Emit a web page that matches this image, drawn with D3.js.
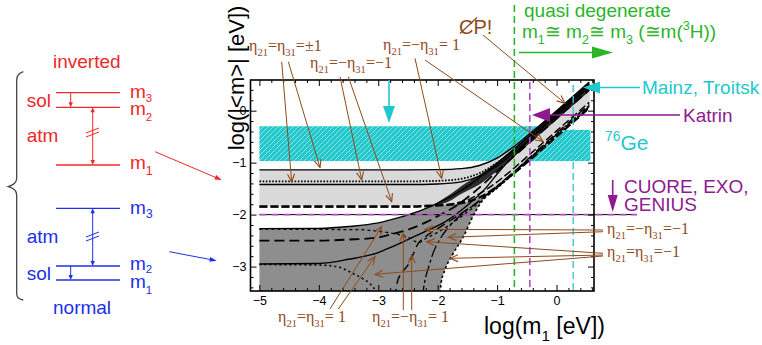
<!DOCTYPE html>
<html>
<head>
<meta charset="utf-8">
<script src="https://cdn.jsdelivr.net/npm/d3@7"></script>
<style>
  body { margin: 0; background: #fff; }
  svg { display: block; }
  text { font-family: "Liberation Sans", Arial, sans-serif; }
</style>
</head>
<body>
<svg id="chart" width="762" height="345"></svg>
<script>
// ---- data (log10 values, eV) ----
const xTicks = [-5, -4, -3, -2, -1, 0];
const yTicks = [0, -1, -2, -3];

// inverted hierarchy
const ihTop = [[-5, -1.14], [-2.5, -1.14], [-2, -1.135], [-1.6, -1.115], [-1.3, -1.055], [-1, -0.915], [-0.7, -0.675], [-0.4, -0.395], [0, 0], [0.55, 0.55]];
const ihDotted = [[-5, -1.36], [-2.5, -1.36], [-2, -1.35], [-1.6, -1.31], [-1.3, -1.205], [-1, -1.0], [-0.7, -0.74], [-0.4, -0.45], [0, -0.05], [0.55, 0.5]];
const ihSolid = [[-5, -1.42], [-2.5, -1.42], [-2, -1.41], [-1.6, -1.37], [-1.3, -1.26], [-1, -1.06], [-0.7, -0.79], [-0.4, -0.5], [0, -0.1], [0.55, 0.45]];
const ihDashed = [[-5, -1.84], [-2.5, -1.84], [-2, -1.82], [-1.7, -1.8], [-1.5, -1.755], [-1.3, -1.67], [-1, -1.46], [-0.7, -1.19], [-0.4, -0.9], [0, -0.5], [0.55, 0.05]];
const ihDashed2 = [[-5, -1.855], [-2.5, -1.855], [-2, -1.83], [-1.7, -1.78], [-1.5, -1.72], [-1.3, -1.6], [-1, -1.37], [-0.7, -1.09], [-0.4, -0.79], [0, -0.39], [0.55, 0.16]];

// normal hierarchy
const nhTop = [[-5, -2.27], [-4, -2.265], [-3.5, -2.23], [-3, -2.16], [-2.6, -2.04], [-2.3, -1.93], [-2, -1.78], [-1.7, -1.6], [-1.4, -1.38], [-1, -1.02], [-0.5, -0.53], [0, -0.03], [0.55, 0.52]];
const nhSolid = [[-5, -2.95], [-4, -2.94], [-3.5, -2.86], [-3, -2.73], [-2.75, -2.61], [-2.5, -2.48], [-2.2, -2.32], [-1.85, -2.12], [-1.5, -1.82], [-1.2, -1.5], [-1, -1.22], [-0.7, -0.84], [-0.4, -0.5], [0, -0.07], [0.55, 0.48]];
const nhDotted = [[-5, -2.96], [-4, -2.97], [-3.7, -3.0], [-3.43, -3.13], [-3.25, -3.24], [-3.14, -3.33], [-3.06, -3.45], [-3.03, -3.6]];
const nhShort = [[-5, -2.28], [-4, -2.285], [-3.3, -2.29], [-3, -2.32], [-2.64, -2.39], [-2.45, -2.46], [-2.33, -2.54], [-2.2, -2.46], [-2, -2.34], [-1.7, -2.12], [-1.4, -1.86], [-1.1, -1.58], [-0.8, -1.28], [-0.4, -0.86], [0, -0.45], [0.55, 0.1]];
const nhLong = [[-5, -2.5], [-4, -2.5], [-3.5, -2.48], [-3, -2.44], [-2.75, -2.37], [-2.5, -2.29], [-2.2, -2.15], [-2, -2.03], [-1.7, -1.84], [-1.4, -1.58], [-1, -1.17], [-0.5, -0.66], [0, -0.15], [0.55, 0.4]];
const nhRise1 = [[-2.72, -3.6], [-2.68, -3.3], [-2.61, -3.13], [-2.5, -2.97], [-2.42, -2.78], [-2.35, -2.6], [-2.2, -2.42], [-2, -2.27], [-1.7, -2.05], [-1.4, -1.82], [-1.1, -1.55], [-0.7, -1.16], [-0.3, -0.74], [0.1, -0.33], [0.55, 0.12]];
const nhRise2 = [[-2.26, -3.6], [-2.22, -3.3], [-2.15, -3.0], [-2.07, -2.72], [-1.95, -2.45], [-1.8, -2.22], [-1.6, -2.0], [-1.35, -1.78], [-1, -1.45], [-0.5, -0.96], [0, -0.46], [0.55, 0.08]];
const nhEdge = [[-1.97, -3.6], [-1.94, -3.3], [-1.88, -3.07], [-1.74, -2.75], [-1.57, -2.43], [-1.41, -2.04], [-1.24, -1.72], [-1, -1.49], [-0.5, -0.98], [0, -0.48], [0.55, 0.06]];
const nhFloor = -3.6;

// dark overlap strip along the degenerate diagonal: [x, top, bottom]
const darkStrip = [[-2.05, -1.8, -1.84], [-1.8, -1.62, -1.74], [-1.6, -1.45, -1.6], [-1.3, -1.24, -1.42], [-1, -0.99, -1.16], [-0.7, -0.7, -0.87], [-0.4, -0.405, -0.575], [0, -0.005, -0.175], [0.55, 0.545, 0.375]];

// 76Ge band pieces: [xFrom, xTo, yTop, yBottom]
const geBand = [[-5, -0.1, -0.30, -0.97], [-0.6, 0.57, -0.37, -0.97]];

// experimental limits
const degenerateX = -0.71;
const katrinX = -0.45;
const mainzX = 0.28;
const cuoreY = -2;

// ---- setup ----
const CYAN = '#22c8cc', BROWN = '#8e4a1c', PURPLE = '#8e1a90', MAGENTA = '#b44cc4',
      GREEN = '#2ab52a', RED = '#f02828', BLUE = '#2030e8';

const svg = d3.select('#chart');
const x = d3.scaleLinear().domain([-5.15, 0.63]).range([250.5, 594]);
const y = d3.scaleLinear().domain([0.59, -3.47]).range([80, 291]);
const [X0, X1] = x.range(), [Y0, Y1] = y.range();

const defs = svg.append('defs');
defs.append('clipPath').attr('id', 'plotClip').append('rect')
    .attr('x', X0).attr('y', Y0).attr('width', X1 - X0).attr('height', Y1 - Y0);

const hatch = defs.append('pattern').attr('id', 'hatch')
    .attr('patternUnits', 'userSpaceOnUse').attr('width', 5).attr('height', 5);
hatch.append('rect').attr('width', 5).attr('height', 5).attr('fill', CYAN);
hatch.append('path').attr('d', 'M-1,1 L1,-1 M0,5 L5,0 M4,6 L6,4')
    .attr('stroke', '#fff').attr('stroke-width', 0.7).attr('opacity', 0.7);

defs.append('marker').attr('id', 'vhead')
    .attr('viewBox', '-9 -5 10 10').attr('refX', 0).attr('refY', 0)
    .attr('markerWidth', 10).attr('markerHeight', 10)
    .attr('markerUnits', 'userSpaceOnUse').attr('orient', 'auto')
    .append('path').attr('d', 'M-8,-3.5 L0,0 L-8,3.5')
    .attr('fill', 'none').attr('stroke', BROWN).attr('stroke-width', 1.1);

const line = d3.line().x(d => x(d[0])).y(d => y(d[1])).curve(d3.curveMonotoneX);
const pts = arr => arr.map(d => [d[0], d[1]]);

// ---- helpers ----
function rich(g, tx, ty, parts, size, color, family, subShift = 0.32, subScale = 0.66) {
    const t = g.append('text').attr('x', tx).attr('y', ty).attr('fill', color)
        .style('font-size', size + 'px').style('white-space', 'pre');
    if (family) t.style('font-family', family);
    let cur = 0;
    parts.forEach(p => {
        const [s, k] = Array.isArray(p) ? p : [p];
        const off = k === 'sub' ? size * subShift : k === 'sup' ? -size * 0.42 : 0;
        const ts = t.append('tspan').attr('dy', off - cur).text(s);
        if (k) ts.style('font-size', (size * subScale) + 'px');
        cur = off;
    });
    return t;
}

function solidArrow(g, x1, y1, x2, y2, color, len, hw, sw) {
    const a = Math.atan2(y2 - y1, x2 - x1), c = Math.cos(a), s = Math.sin(a);
    const bx = x2 - len * c, by = y2 - len * s;
    g.append('line').attr('x1', x1).attr('y1', y1).attr('x2', bx + c).attr('y2', by + s)
        .attr('stroke', color).attr('stroke-width', sw);
    g.append('path')
        .attr('d', `M${x2},${y2}L${bx - hw * s},${by + hw * c}L${bx + hw * s},${by - hw * c}Z`)
        .attr('fill', color);
}

function plainText(g, tx, ty, s, size, color) {
    return g.append('text').attr('x', tx).attr('y', ty).attr('fill', color)
        .style('font-size', size + 'px').text(s);
}

// ---- plot area ----
const plot = svg.append('g').attr('clip-path', 'url(#plotClip)');

plot.selectAll('rect.ge').data(geBand).join('rect').attr('class', 'ge')
    .attr('x', d => x(d[0])).attr('y', d => y(d[2]))
    .attr('width', d => x(d[1]) - x(d[0])).attr('height', d => y(d[3]) - y(d[2]))
    .attr('fill', 'url(#hatch)');

// normal hierarchy region
const nhPath = line(pts(nhTop)) +
    line(pts(nhEdge).reverse()).replace(/^M/, 'L') +
    `L${x(-5)},${y(nhFloor)}Z`;
plot.append('path').attr('d', nhPath).attr('fill', '#8e8e8e');

// inverted hierarchy region
const ihPath = line(pts(ihTop)) + line(pts(ihDashed).reverse()).replace(/^M/, 'L') + 'Z';
plot.append('path').attr('d', ihPath).attr('fill', '#d9d9d9');

plot.append('path').datum(darkStrip)
    .attr('d', d3.area().x(d => x(d[0])).y0(d => y(d[2])).y1(d => y(d[1])).curve(d3.curveMonotoneX))
    .attr('fill', '#2c2c2c');

const curveSet = [
    [ihTop, null, 1.4], [ihDotted, '1.6,1.6', 1.8], [ihSolid, null, 1.4],
    [ihDashed, '8,3', 2.2], [ihDashed2, '8,3', 1.5],
    [nhTop, null, 1.4], [nhShort, '3,3', 1.3], [nhLong, '10,5', 1.8],
    [nhSolid, null, 1.4], [nhDotted, '2,3', 1.6],
    [nhRise1, '9,5', 1.4], [nhRise2, '12,3,3,3', 1.3], [nhEdge, '2.5,2.5', 1.6]
];
curveSet.forEach(([data, dash, w]) => {
    plot.append('path').attr('d', line(data)).attr('fill', 'none')
        .attr('stroke', '#000').attr('stroke-width', w)
        .attr('stroke-dasharray', dash);
});

// ---- limit lines ----
svg.append('line').attr('x1', x(-5)).attr('x2', 633).attr('y1', y(cuoreY)).attr('y2', y(cuoreY))
    .attr('stroke', '#000').attr('stroke-width', 1);
svg.append('line').attr('x1', x(-5)).attr('x2', 637).attr('y1', y(cuoreY)).attr('y2', y(cuoreY))
    .attr('stroke', MAGENTA).attr('stroke-width', 1.6).attr('stroke-dasharray', '7,5');

svg.append('line').attr('x1', x(degenerateX)).attr('x2', x(degenerateX)).attr('y1', 5).attr('y2', Y1)
    .attr('stroke', GREEN).attr('stroke-width', 1.6).attr('stroke-dasharray', '7,4');
svg.append('line').attr('x1', x(katrinX)).attr('x2', x(katrinX)).attr('y1', Y0 + 2).attr('y2', Y1)
    .attr('stroke', MAGENTA).attr('stroke-width', 1.6).attr('stroke-dasharray', '7,4');
svg.append('line').attr('x1', x(mainzX)).attr('x2', x(mainzX)).attr('y1', 85).attr('y2', Y1)
    .attr('stroke', '#3cc8cc').attr('stroke-width', 1.4).attr('stroke-dasharray', '7,4');

// ---- frame and ticks ----
const minorX = d3.range(-5.2, 0.61, 0.2).filter(v => v > -5.15 && Math.abs(v - Math.round(v)) > 0.01);
const minorY = d3.range(0.4, -3.41, -0.2).filter(v => Math.abs(v - Math.round(v)) > 0.01);

function ticks(axis, tr, vals, size, fmt) {
    const g = svg.append('g').attr('transform', tr)
        .call(axis.tickValues(vals).tickSize(-size).tickPadding(5).tickFormat(fmt));
    g.select('.domain').remove();
    g.selectAll('line').attr('stroke', '#000').attr('stroke-width', 1);
    g.selectAll('text').style('font-size', '12.5px').attr('fill', '#000')
        .style('font-family', '"Liberation Sans", Arial, sans-serif');
    return g;
}
const none = () => '';
ticks(d3.axisBottom(x), `translate(0,${Y1})`, xTicks, 6, d3.format('d'));
ticks(d3.axisBottom(x), `translate(0,${Y1})`, minorX, 3, none);
ticks(d3.axisTop(x), `translate(0,${Y0})`, xTicks, 6, none);
ticks(d3.axisTop(x), `translate(0,${Y0})`, minorX, 3, none);
const yl = ticks(d3.axisLeft(y), `translate(${X0},0)`, yTicks, 6, d3.format('d'));
yl.selectAll('text').attr('x', -4);
ticks(d3.axisLeft(y), `translate(${X0},0)`, minorY, 3, none);
ticks(d3.axisRight(y), `translate(${X1},0)`, yTicks, 6, none);
ticks(d3.axisRight(y), `translate(${X1},0)`, minorY, 3, none);

svg.append('rect').attr('x', X0).attr('y', Y0).attr('width', X1 - X0).attr('height', Y1 - Y0)
    .attr('fill', 'none').attr('stroke', '#000').attr('stroke-width', 1.6);

// axis titles
svg.append('text').attr('transform', 'translate(244,78) rotate(-90)')
    .attr('text-anchor', 'middle').style('font-size', '22px').attr('fill', '#000')
    .text('log(|<m>| [eV])');
rich(svg, 484, 334, ['log(m', ['1', 'sub'], ' [eV])'], 23, '#000');

// ---- annotations on the right ----
const ann = svg.append('g');
plainText(ann, 524, 17, 'quasi degenerate', 19, GREEN);
rich(ann, 522, 38, ['m', ['1', 'sub'], '≅ m', ['2', 'sub'], '≅ m', ['3', 'sub'], ' (≅m(', ['3', 'sup'], 'H))'], 19, GREEN);
solidArrow(ann, 519, 52.5, 613, 52.5, GREEN, 21, 6, 1.6);

plainText(ann, 642, 94, 'Mainz, Troitsk', 19, CYAN);
solidArrow(ann, 640, 87.5, 583, 87.5, CYAN, 17, 6, 1.6);
plainText(ann, 683, 122, 'Katrin', 19, PURPLE);
solidArrow(ann, 680, 115, 532, 115, PURPLE, 18, 7, 1.6);
solidArrow(ann, 389, Y0, 389, 123, CYAN, 17, 6, 1.6);

rich(ann, 605, 150, [['76', 'sup'], 'Ge'], 21, CYAN);
plainText(ann, 624, 193, 'CUORE, EXO,', 19, PURPLE);
plainText(ann, 624, 211, 'GENIUS', 19, PURPLE);
solidArrow(ann, 612.7, 180, 612.7, 212, PURPLE, 17, 5, 1.6);

// CP! crossed out
plainText(ann, 459, 34, 'CP!', 20, BROWN);
ann.append('line').attr('x1', 460).attr('y1', 33.5).attr('x2', 477).attr('y2', 17.5)
    .attr('stroke', BROWN).attr('stroke-width', 1.3);

// brown eta labels
const serif = '"Liberation Serif", "Times New Roman", serif';
const etaLabels = [
    [249, 51, ['η', ['21', 'sub'], '=η', ['31', 'sub'], '=±1']],
    [310, 68, ['η', ['21', 'sub'], '=−η', ['31', 'sub'], '=−1']],
    [383, 50, ['η', ['21', 'sub'], '=−η', ['31', 'sub'], '= 1']],
    [607, 234, ['η', ['21', 'sub'], '=−η', ['31', 'sub'], '=−1']],
    [607, 257, ['η', ['21', 'sub'], '=η', ['31', 'sub'], '=−1']],
    [278, 322, ['η', ['21', 'sub'], '=η', ['31', 'sub'], '= 1']],
    [372, 322, ['η', ['21', 'sub'], '=−η', ['31', 'sub'], '= 1']]
];
etaLabels.forEach(([lx, ly, parts]) => rich(ann, lx, ly, parts, 16, BROWN, serif));

const pointers = [
    [281.7, 61.7, 291.7, 182], [288.3, 61.7, 320, 167.5],
    [340, 76.7, 361.7, 180], [348.3, 76.7, 391.7, 201.7],
    [415, 58.3, 441.7, 178.3], [425, 60, 543, 141.5],
    [603, 230, 425, 229.3], [603, 231.7, 448.3, 237.3],
    [603, 253.3, 426.7, 241.7], [603, 255, 450, 258.3], [603, 256, 375, 274.3],
    [330, 309, 381.7, 226.7], [338.3, 309, 375, 256.7],
    [403.3, 310, 403.3, 233.3], [411.7, 310, 411.7, 255],
    [483, 35, 565, 103.3]
];
ann.selectAll('line.ptr').data(pointers).join('line').attr('class', 'ptr')
    .attr('x1', d => d[0]).attr('y1', d => d[1]).attr('x2', d => d[2]).attr('y2', d => d[3])
    .attr('stroke', BROWN).attr('stroke-width', 1).attr('marker-end', 'url(#vhead)');

// ---- level scheme on the left ----
const lev = svg.append('g');
lev.append('path')
    .attr('d', 'M23.3,71.7 Q16.7,74 16.7,80 L16.7,178 Q16.7,184 8.3,186.7 Q16.7,189 16.7,195 L16.7,294 Q16.7,299 23.3,300')
    .attr('fill', 'none').attr('stroke', '#444').attr('stroke-width', 1.3);

function levels(color, ys) {
    ys.forEach(v => lev.append('line').attr('x1', 56).attr('x2', 120).attr('y1', v).attr('y2', v)
        .attr('stroke', color).attr('stroke-width', 1.3));
}
function gap(color, xx, ya, yb, both) {
    const mid = (ya + yb) / 2;
    solidArrow(lev, xx, mid, xx, yb, color, 5, 2.2, 1);
    if (both) solidArrow(lev, xx, mid, xx, ya, color, 5, 2.2, 1);
    else lev.append('line').attr('x1', xx).attr('x2', xx).attr('y1', ya).attr('y2', mid).attr('stroke', color);
}
function breakMark(color, cy) {
    [-2, 2].forEach(o => lev.append('line')
        .attr('x1', 86).attr('y1', cy + o + 2.5).attr('x2', 99).attr('y2', cy + o - 2.5)
        .attr('stroke', color).attr('stroke-width', 1));
}

// inverted
levels(RED, [92.7, 107.3, 165]);
gap(RED, 70.7, 92.7, 107.3, false);
gap(RED, 92.7, 107.3, 165, true);
breakMark(RED, 132.5);
plainText(lev, 53, 68, 'inverted', 19, RED);
plainText(lev, 26.7, 106.5, 'sol', 19, RED);
plainText(lev, 26.7, 141.5, 'atm', 19, RED);
rich(lev, 130, 98, ['m', ['3', 'sub']], 19, RED, null, 0.22, 0.6);
rich(lev, 130, 115, ['m', ['2', 'sub']], 19, RED, null, 0.3, 0.6);
rich(lev, 130, 168.5, ['m', ['1', 'sub']], 19, RED);
solidArrow(lev, 155, 151.7, 221.7, 180, RED, 7, 2.5, 1);

// normal
levels(BLUE, [208.3, 266, 280]);
gap(BLUE, 92.7, 208.3, 266, true);
gap(BLUE, 70.7, 266, 280, false);
breakMark(BLUE, 236.5);
plainText(lev, 26.7, 243, 'atm', 19, BLUE);
plainText(lev, 26.7, 280, 'sol', 19, BLUE);
rich(lev, 130, 214, ['m', ['3', 'sub']], 19, BLUE, null, 0.22);
rich(lev, 130, 269.5, ['m', ['2', 'sub']], 19, BLUE, null, 0.18, 0.6);
rich(lev, 130, 288, ['m', ['1', 'sub']], 19, BLUE, null, 0.32, 0.6);
plainText(lev, 53, 314, 'normal', 19, BLUE);
solidArrow(lev, 169.3, 251.7, 216.7, 260.7, BLUE, 7, 2.5, 1);
</script>
</body>
</html>
